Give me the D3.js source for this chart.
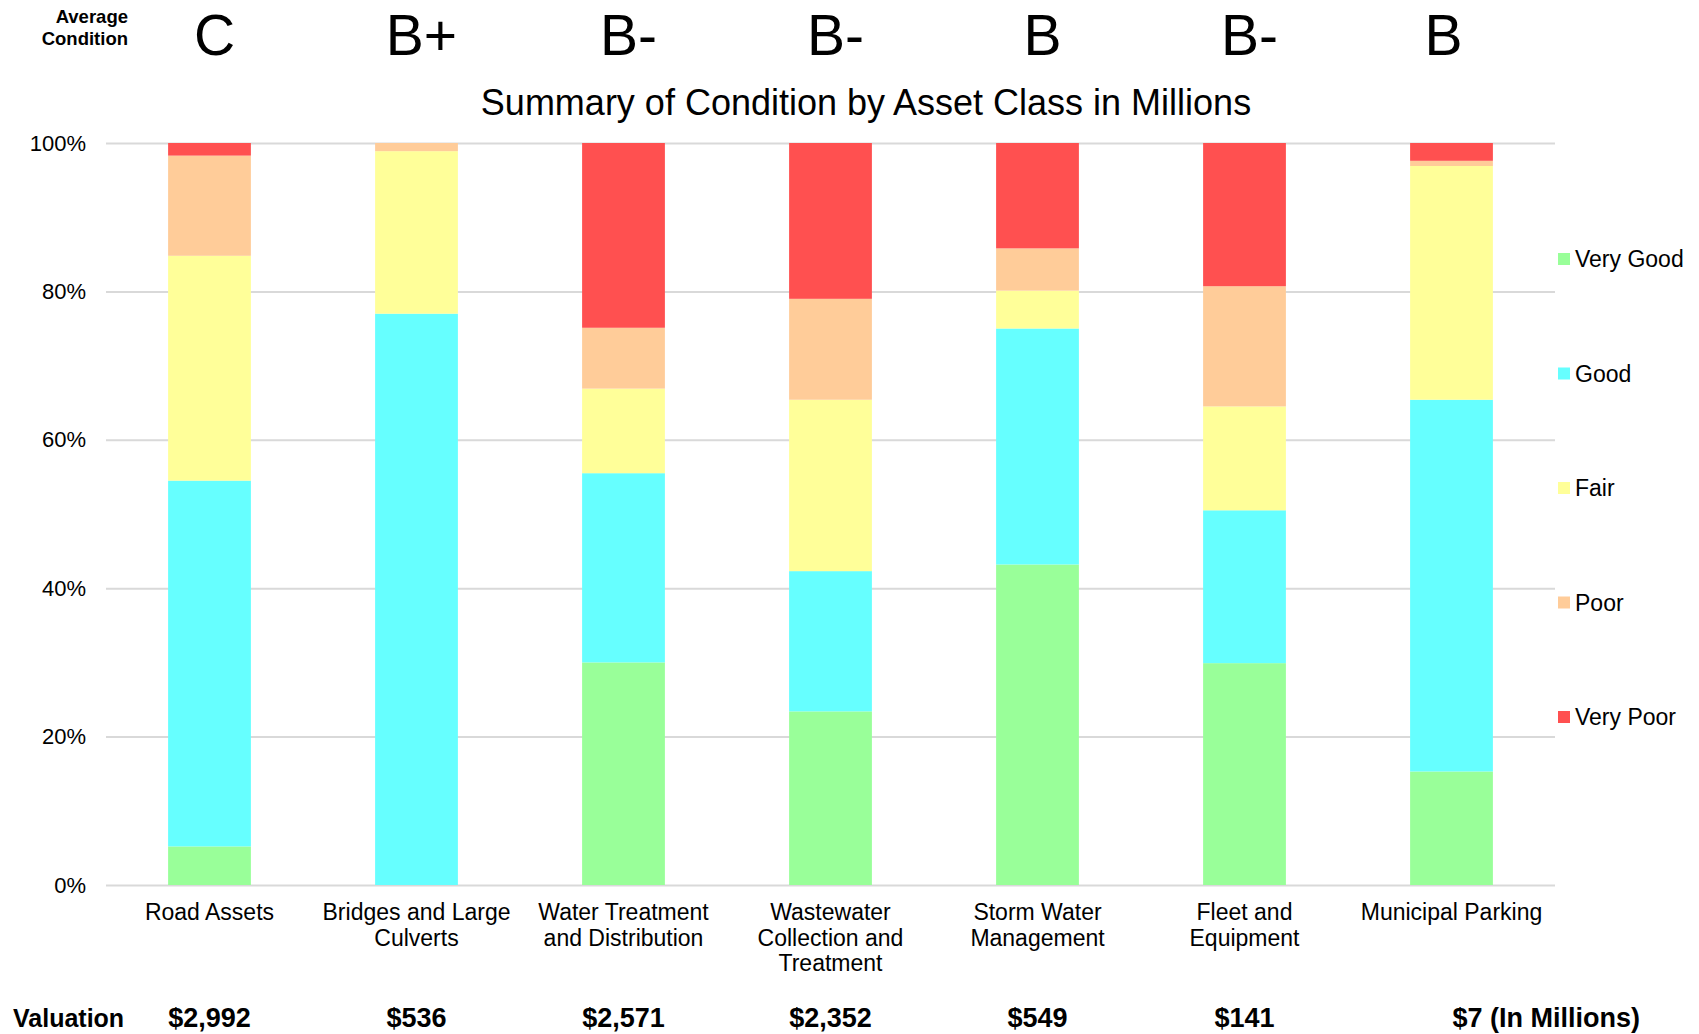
<!DOCTYPE html>
<html>
<head>
<meta charset="utf-8">
<script src="https://cdn.jsdelivr.net/npm/d3@7"></script>
<style>
  html, body { margin: 0; padding: 0; background: #fff; }
  svg { display: block; }
  text { font-family: "Liberation Sans", Arial, sans-serif; fill: #000; }
</style>
</head>
<body>
<svg id="chart" width="1699" height="1034"></svg>
<script>
// ---- Data ----
const categories = [
  "Road Assets",
  "Bridges and Large\nCulverts",
  "Water Treatment\nand Distribution",
  "Wastewater\nCollection and\nTreatment",
  "Storm Water\nManagement",
  "Fleet and\nEquipment",
  "Municipal Parking"
];
const grades = ["C", "B+", "B-", "B-", "B", "B-", "B"];
const valuations = ["$2,992", "$536", "$2,571", "$2,352", "$549", "$141", "$7"];
const seriesNames = ["Very Good", "Good", "Fair", "Poor", "Very Poor"];
const veryGood = [5.2, 0, 30.0, 23.4, 43.2, 29.9, 15.3];
const good     = [49.3, 77.0, 25.5, 18.9, 31.8, 20.6, 50.1];
const fair     = [30.3, 21.9, 11.4, 23.1, 5.1, 14.0, 31.5];
const poor     = [13.5, 1.1, 8.2, 13.6, 5.7, 16.2, 0.7];
const veryPoor = [1.7, 0, 24.9, 21.0, 14.2, 19.3, 2.4];
const yTicks = [0, 20, 40, 60, 80, 100];
const colors = ["#99ff99", "#66ffff", "#ffff99", "#ffcc99", "#ff5050"];

// ---- Build table ----
const seriesValues = [veryGood, good, fair, poor, veryPoor];
const rows = categories.map((c, i) => {
  const r = { category: c };
  seriesNames.forEach((s, k) => r[s] = seriesValues[k][i]);
  return r;
});
const stacked = d3.stack().keys(seriesNames).offset(d3.stackOffsetExpand)(rows);

// ---- Layout ----
const svg = d3.select("#chart");
const plot = { left: 106, right: 1555, top: 143, bottom: 885 };

const x = d3.scaleBand()
  .domain(categories)
  .range([plot.left, plot.right])
  .paddingInner(0.6)
  .paddingOuter(0.3);
const y = d3.scaleLinear().domain([0, 1]).range([plot.bottom, plot.top]);
const color = d3.scaleOrdinal().domain(seriesNames).range(colors);

// Gridlines + y tick labels
const yAxis = d3.axisLeft(y)
  .tickValues(yTicks.map(t => t / 100))
  .tickSize(-(plot.right - plot.left))
  .tickFormat(d => Math.round(d * 100) + "%")
  .tickPadding(20);
const gy = svg.append("g")
  .attr("transform", `translate(${plot.left},0)`)
  .call(yAxis);
gy.select(".domain").remove();
gy.selectAll(".tick line").attr("stroke", "#d9d9d9").attr("stroke-width", 2);
gy.selectAll(".tick text")
  .style("font-family", "'Liberation Sans', Arial, sans-serif")
  .style("font-size", "22px")
  .attr("fill", "#000");

// Bars
svg.append("g").selectAll("g")
  .data(stacked)
  .join("g")
  .attr("fill", d => color(d.key))
  .selectAll("rect")
  .data(d => d)
  .join("rect")
  .attr("x", d => x(d.data.category))
  .attr("width", x.bandwidth())
  .attr("y", d => y(d[1]))
  .attr("height", d => Math.max(0, y(d[0]) - y(d[1])));

// Category labels
const catG = svg.append("g");
categories.forEach(c => {
  const lines = c.split("\n");
  const t = catG.append("text")
    .attr("text-anchor", "middle")
    .attr("x", x(c) + x.bandwidth() / 2)
    .attr("y", 920)
    .style("font-size", "23px");
  lines.forEach((l, i) => {
    t.append("tspan")
      .attr("x", x(c) + x.bandwidth() / 2)
      .attr("dy", i === 0 ? 0 : 25.5)
      .text(l);
  });
});

// Title
svg.append("text")
  .attr("x", 866)
  .attr("y", 115)
  .attr("text-anchor", "middle")
  .style("font-size", "36px")
  .text("Summary of Condition by Asset Class in Millions");

// Average Condition header
const hdr = svg.append("text")
  .attr("text-anchor", "end")
  .style("font-size", "18.5px")
  .style("font-weight", "bold");
hdr.append("tspan").attr("x", 128).attr("y", 23).text("Average");
hdr.append("tspan").attr("x", 128).attr("y", 45).text("Condition");

// Grades
svg.append("g").selectAll("text")
  .data(grades)
  .join("text")
  .attr("text-anchor", "middle")
  .attr("x", (d, i) => x(categories[i]) + x.bandwidth() / 2 + (i === grades.length - 1 ? -8 : 5))
  .attr("y", 55)
  .style("font-size", "57px")
  .text(d => d);

// Valuation row
svg.append("text")
  .attr("x", 13)
  .attr("y", 1027)
  .style("font-size", "25px")
  .style("font-weight", "bold")
  .text("Valuation");
svg.append("g").selectAll("text")
  .data(valuations)
  .join("text")
  .attr("x", (d, i) => x(categories[i]) + x.bandwidth() / 2 + (i === valuations.length - 1 ? 1 : 0))
  .attr("y", 1027)
  .attr("text-anchor", (d, i) => i === valuations.length - 1 ? "start" : "middle")
  .style("font-size", "27px")
  .style("font-weight", "bold")
  .text((d, i) => i === valuations.length - 1 ? d + " (In Millions)" : d);

// Legend
const legend = svg.append("g");
seriesNames.forEach((s, i) => {
  const cy = 259 + i * 114.5;
  legend.append("rect")
    .attr("x", 1558).attr("y", cy - 6)
    .attr("width", 12).attr("height", 12)
    .attr("fill", color(s));
  legend.append("text")
    .attr("x", 1575).attr("y", cy)
    .attr("dy", "0.35em")
    .style("font-size", "23px")
    .text(s);
});
</script>
</body>
</html>
